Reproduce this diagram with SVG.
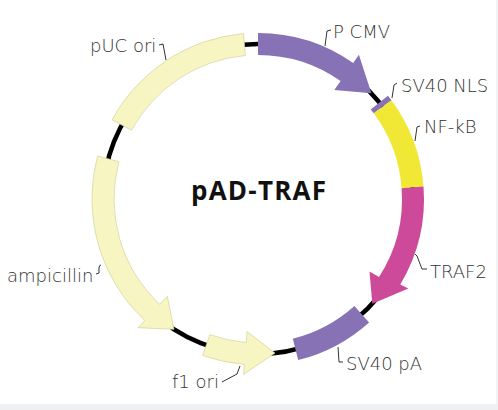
<svg xmlns="http://www.w3.org/2000/svg" width="498" height="410" viewBox="0 0 498 410">
<style>
.lbl{font-family:"DejaVu Sans","Liberation Sans",sans-serif;font-size:18px;font-weight:200;fill:#333}
.ttl{font-family:"Open Sans","Liberation Sans",sans-serif;font-size:26px;font-weight:700;fill:#111}
.pale{fill:#f7f6c2;stroke:#d2d19c;stroke-width:0.7}
.purple{fill:#8672b4}
.lead{fill:none;stroke:#333;stroke-width:1}
</style>
<rect x="0" y="0" width="498" height="410" fill="#ffffff"/>
<rect x="0" y="404" width="498" height="6" fill="#eff0f1"/>
<rect x="496" y="0" width="2" height="404" fill="#f2f3f4"/>
<g id="backbone"><circle cx="258" cy="199" r="155" fill="none" stroke="#000" stroke-width="4.5"/></g>
<g id="pUC-ori"><path class="pale" d="M112.1,119.8 A166,166 0 0 1 243.5,33.6 L245.4,55.5 A144,144 0 0 0 131.5,130.3 Z"/><text class="lbl" x="90" y="52">pUC ori</text></g>
<g id="P-CMV"><path class="purple" d="M258,33 A166,166 0 0 1 353.2,63 L358.9,54.8 L371.4,93.3 L334.3,90 L340.6,81 A144,144 0 0 0 258,55 Z"/><text class="lbl" x="333" y="38">P CMV</text></g>
<g id="SV40-NLS"><path class="purple" d="M387.9,95.7 A166,166 0 0 1 391.4,100.3 L373.8,113.3 A144,144 0 0 0 370.7,109.4 Z"/><text class="lbl" x="401" y="92">SV40 NLS</text></g>
<g id="NF-kB"><path fill="#f1e735" d="M391.4,100.3 A166,166 0 0 1 423.5,186.6 L401.6,188.2 A144,144 0 0 0 373.8,113.3 Z"/><text class="lbl" x="424" y="133">NF-kB</text></g>
<g id="TRAF2"><path fill="#cd4a9a" d="M423.5,186.6 A166,166 0 0 1 400.3,284.5 L408.4,288.4 L372.3,303.7 L369.5,271.4 L379,277 A144,144 0 0 0 401.6,188.2 Z"/><text class="lbl" x="430" y="278">TRAF2</text></g>
<g id="SV40-pA"><path class="purple" d="M369.1,322.4 A166,166 0 0 1 298.2,360.1 L292.8,338.7 A144,144 0 0 0 354.4,306 Z"/><text class="lbl" x="346" y="370">SV40 pA</text></g>
<g id="f1-ori"><path class="pale" d="M209.9,334.7 A144,144 0 0 0 246.2,342.5 L247.1,331.5 L275,353.1 L243.6,374.4 L244.4,364.4 A166,166 0 0 1 202.6,355.5 Z"/><text class="lbl" x="172" y="388">f1 ori</text></g>
<g id="ampicillin"><path class="pale" d="M97.7,156 A166,166 0 0 0 144.8,320.4 L138,327.7 L174,329.3 L167.3,296.3 L159.8,304.3 A144,144 0 0 1 118.9,161.7 Z"/><text class="lbl" x="7" y="282">ampicillin</text></g>
<g id="title"><text class="ttl" x="191" y="200" textLength="135" lengthAdjust="spacing">pAD-TRAF</text></g>
<g id="connectors">
<path class="lead" d="M159,45 L163,44 L166,60"/>
<path class="lead" d="M325,46 L327,31 L331,30"/>
<path class="lead" d="M392,98 L394,85 L397,83"/>
<path class="lead" d="M415,141 L417,127 L420,126"/>
<path class="lead" d="M415,254 L417,256 L422,269 L427,269"/>
<path class="lead" d="M338,347 L339,362 L343,362"/>
<path class="lead" d="M222,382 L237,374 L240,366"/>
<path class="lead" d="M101,265 Q99,265 99,268 L99,273 L96,274"/>
</g>
</svg>
